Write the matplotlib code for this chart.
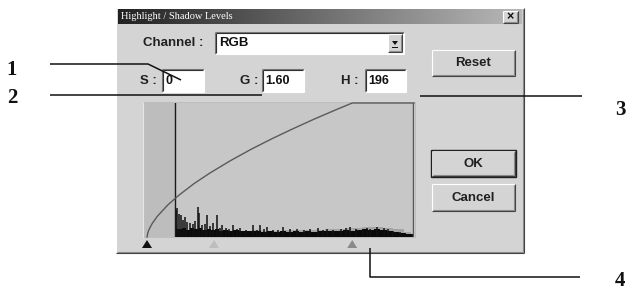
import numpy as np
import matplotlib.pyplot as plt
from matplotlib.patches import Rectangle, Polygon

W, H = 628, 293

# dialog values
title = "Highlight / Shadow Levels"
channel = "RGB"
s_val, g_val, h_val = "0", "1.60", "196"

# tone curve (input level -> output fraction)
curve_in = [0, 1, 2, 5, 10, 20, 30, 45, 60, 80, 100, 120, 140, 160, 180, 196, 255]
curve_out = [0.0, 0.037, 0.057, 0.101, 0.156, 0.240, 0.309, 0.399, 0.477,
             0.571, 0.657, 0.736, 0.810, 0.881, 0.948, 1.0, 1.0]

# histogram, dense low part (level, count)
base_lvl = [27, 31, 35, 39, 43, 47, 51, 55, 59, 63, 67, 71, 75, 80, 85, 90, 95,
            100, 106, 112, 118, 124, 130, 136, 142, 148, 154, 160, 166, 172,
            178, 184, 190, 196, 202, 208, 214, 220, 226, 232, 238, 244, 250, 255]
base_cnt = [75, 62, 68, 55, 64, 58, 66, 52, 60, 50, 56, 47, 52, 45, 50, 42, 48,
            42, 46, 40, 44, 40, 45, 38, 43, 41, 46, 40, 44, 42, 47, 44, 50, 46,
            52, 56, 54, 58, 52, 46, 40, 32, 26, 20]
# lighter fuzz above the dense part
fuzz_lvl = [100, 120, 140, 160, 180, 200, 210, 220, 230, 240, 250, 255]
fuzz_cnt = [52, 48, 52, 50, 56, 64, 72, 76, 68, 56, 38, 24]
# histogram spikes
spike_lvl = [28, 29, 31, 32, 34, 36, 38, 41, 44, 46, 49, 50, 53, 55, 57, 60, 63,
             67, 70, 72, 75, 78, 82, 86, 89, 95, 101, 105, 108, 112, 115, 120,
             125, 130, 137, 143, 150, 156, 163, 168, 172, 178, 185, 190, 194,
             200, 206, 210, 213, 220, 226, 230, 235, 242]
spike_cnt = [200, 216, 170, 164, 127, 150, 110, 104, 95, 120, 224, 180, 90, 100,
             164, 82, 105, 164, 67, 90, 70, 60, 90, 60, 67, 55, 90, 55, 90, 60,
             75, 52, 55, 75, 60, 60, 55, 60, 67, 55, 60, 55, 60, 65, 75, 62, 60,
             68, 58, 75, 67, 60, 45, 40]

# slider pointers (level, colour)
pointer_lvl = [0, 64, 196]
pointer_col = ["#111111", "#bdbdbd", "#8a8a8a"]

# callout labels and anchor points (pixel coords)
callout_lbl = ["1", "2", "3", "4"]
callout_pos = [(12, 70), (12, 98), (620, 110), (620, 281)]

BG = "#d4d4d4"
sans = ["Liberation Sans", "DejaVu Sans"]
serif = ["Liberation Serif", "DejaVu Serif"]

fig = plt.figure(figsize=(W / 100, H / 100), dpi=100)
ax = fig.add_axes([0, 0, 1, 1])
ax.set_xlim(0, W)
ax.set_ylim(H, 0)
ax.axis("off")


def line(xs, ys, c, lw=0.8, z=3):
    ax.plot(xs, ys, color=c, lw=lw, zorder=z, solid_capstyle="butt")


def raised(x0, y0, x1, y1, z=2):
    ax.add_patch(Rectangle((x0, y0), x1 - x0, y1 - y0, fc=BG, ec="none", zorder=z))
    line([x0, x1], [y0, y0], "white", z=z + 1)
    line([x0, x0], [y0, y1], "white", z=z + 1)
    line([x0, x1], [y1, y1], "#404040", z=z + 1)
    line([x1, x1], [y0, y1], "#404040", z=z + 1)
    line([x0 + 1, x1 - 1], [y1 - 1, y1 - 1], "#8a8a8a", z=z + 1)
    line([x1 - 1, x1 - 1], [y0 + 1, y1 - 1], "#8a8a8a", z=z + 1)


def sunken(x0, y0, x1, y1, fc="white"):
    ax.add_patch(Rectangle((x0, y0), x1 - x0, y1 - y0, fc=fc, ec="none", zorder=2))
    line([x0, x1], [y0, y0], "#7a7a7a")
    line([x0, x0], [y0, y1], "#7a7a7a")
    line([x0 + 1, x1 - 1], [y0 + 1, y0 + 1], "#303030")
    line([x0 + 1, x0 + 1], [y0 + 1, y1 - 1], "#303030")
    line([x0, x1], [y1, y1], "white")
    line([x1, x1], [y0, y1], "white")


def button(x0, y0, x1, y1, label, default=False):
    raised(x0, y0, x1, y1)
    if default:
        ax.add_patch(Rectangle((x0 - 1, y0 - 1), x1 - x0 + 2, y1 - y0 + 2,
                               fc="none", ec="#202020", lw=1.0, zorder=5))
    ax.text((x0 + x1) / 2, (y0 + y1) / 2 + 0.5, label, ha="center", va="center",
            fontsize=9.5, fontweight="bold", family=sans, color="#202020", zorder=6)


# dialog body
raised(116, 8, 524, 253, z=1)

# title bar gradient
grad = np.linspace(0, 1, 256)[None, :]
ax.imshow(grad, cmap=plt.matplotlib.colors.LinearSegmentedColormap.from_list(
    "tb", ["#222222", "#6e6e6e", "#b8b8b8"]), extent=(118, 522, 24, 9),
    aspect="auto", zorder=3)
ax.set_xlim(0, W)
ax.set_ylim(H, 0)
ax.text(121, 16.5, title, ha="left", va="center", fontsize=7.5, family=serif,
        color="white", zorder=4)
raised(503, 11, 518, 23, z=4)
ax.text(510.5, 17, "×", ha="center", va="center", fontsize=9, fontweight="bold",
        family=sans, color="#111111", zorder=6)

# channel row
ax.text(143, 43, "Channel :", ha="left", va="center", fontsize=9.5,
        fontweight="bold", family=sans, color="#202020")
sunken(215, 32, 404, 54)
ax.text(219, 43.5, channel, ha="left", va="center", fontsize=9.5,
        fontweight="bold", family=sans, color="#111111", zorder=5)
raised(388, 34, 402, 52, z=4)
ax.add_patch(Polygon([(392, 41), (398, 41), (395, 45)], closed=True,
                     fc="#111111", ec="none", zorder=7))
ax.add_patch(Rectangle((392, 46.5), 6, 1, fc="#111111", ec="none", zorder=7))

# S G H fields
for lab, lx, bx0, bx1, val in [("S :", 140, 162, 204, s_val),
                                ("G :", 240, 262, 304, g_val),
                                ("H :", 341, 365, 406, h_val)]:
    ax.text(lx, 80.5, lab, ha="left", va="center", fontsize=9.5,
            fontweight="bold", family=sans, color="#202020")
    sunken(bx0, 69, bx1, 92)
    ax.text(bx0 + 3, 81, val, ha="left", va="center", fontsize=9,
            fontweight="bold", family=sans, color="#111111", zorder=5)

# buttons
button(432, 50, 515, 76, "Reset")
button(432, 151, 515, 176, "OK", default=True)
button(432, 184, 515, 211, "Cancel")

# histogram panel
ax.add_patch(Rectangle((143, 102), 273, 136, fc="#bdbdbd", ec="none", zorder=2))
ax.add_patch(Rectangle((175, 103), 240, 134, fc="#c7c7c7", ec="none", zorder=2))
line([143, 143], [102, 238], "#e6e6e6")

# curve / histogram axes over the panel
x0, x1, yb, yt = 147, 414, 237, 103
hax = fig.add_axes([x0 / W, 1 - yb / H, (x1 - x0) / W, (yb - yt) / H])
hax.set_xlim(0, 255)
hax.set_ylim(0, 1000)
hax.axis("off")
hax.patch.set_alpha(0)
hax.fill_between(fuzz_lvl, 0, fuzz_cnt, step="mid", color="#a4a4a4", lw=0)
hax.fill_between(base_lvl, 0, base_cnt, step="mid", color="#0a0a0a", lw=0)
hax.vlines(spike_lvl, 0, spike_cnt, color="#111111", lw=1.1)
hax.axvline(27, color="#1a1a1a", lw=1.0)
hax.axvline(254.5, color="#555555", lw=1.0)

cax = fig.add_axes(hax.get_position())
cax.set_xlim(0, 255)
cax.set_ylim(0, 1)
cax.axis("off")
cax.patch.set_alpha(0)
cax.plot(curve_in, curve_out, color="#5a5a5a", lw=1.0, clip_on=False)

# pointers under the panel
for lv, c in zip(pointer_lvl, pointer_col):
    px = x0 + lv * (x1 - x0) / 255
    ax.add_patch(Polygon([(px - 5, 248), (px + 5, 248), (px, 240)], closed=True,
                         fc=c, ec="none", zorder=4))

# callout lines
lc = "#111111"
line([50, 148, 181], [64, 64, 80], lc, lw=1.1, z=8)
line([50, 262], [95, 95], lc, lw=1.1, z=8)
line([420, 582], [96, 96], lc, lw=1.1, z=8)
line([370, 370, 580], [248, 277, 277], lc, lw=1.1, z=8)
for t, (cx, cy) in zip(callout_lbl, callout_pos):
    ax.text(cx, cy, t, ha="center", va="center", fontsize=15, fontweight="bold",
            family=serif, color="#111111")

fig.savefig("out.png", dpi=100)
